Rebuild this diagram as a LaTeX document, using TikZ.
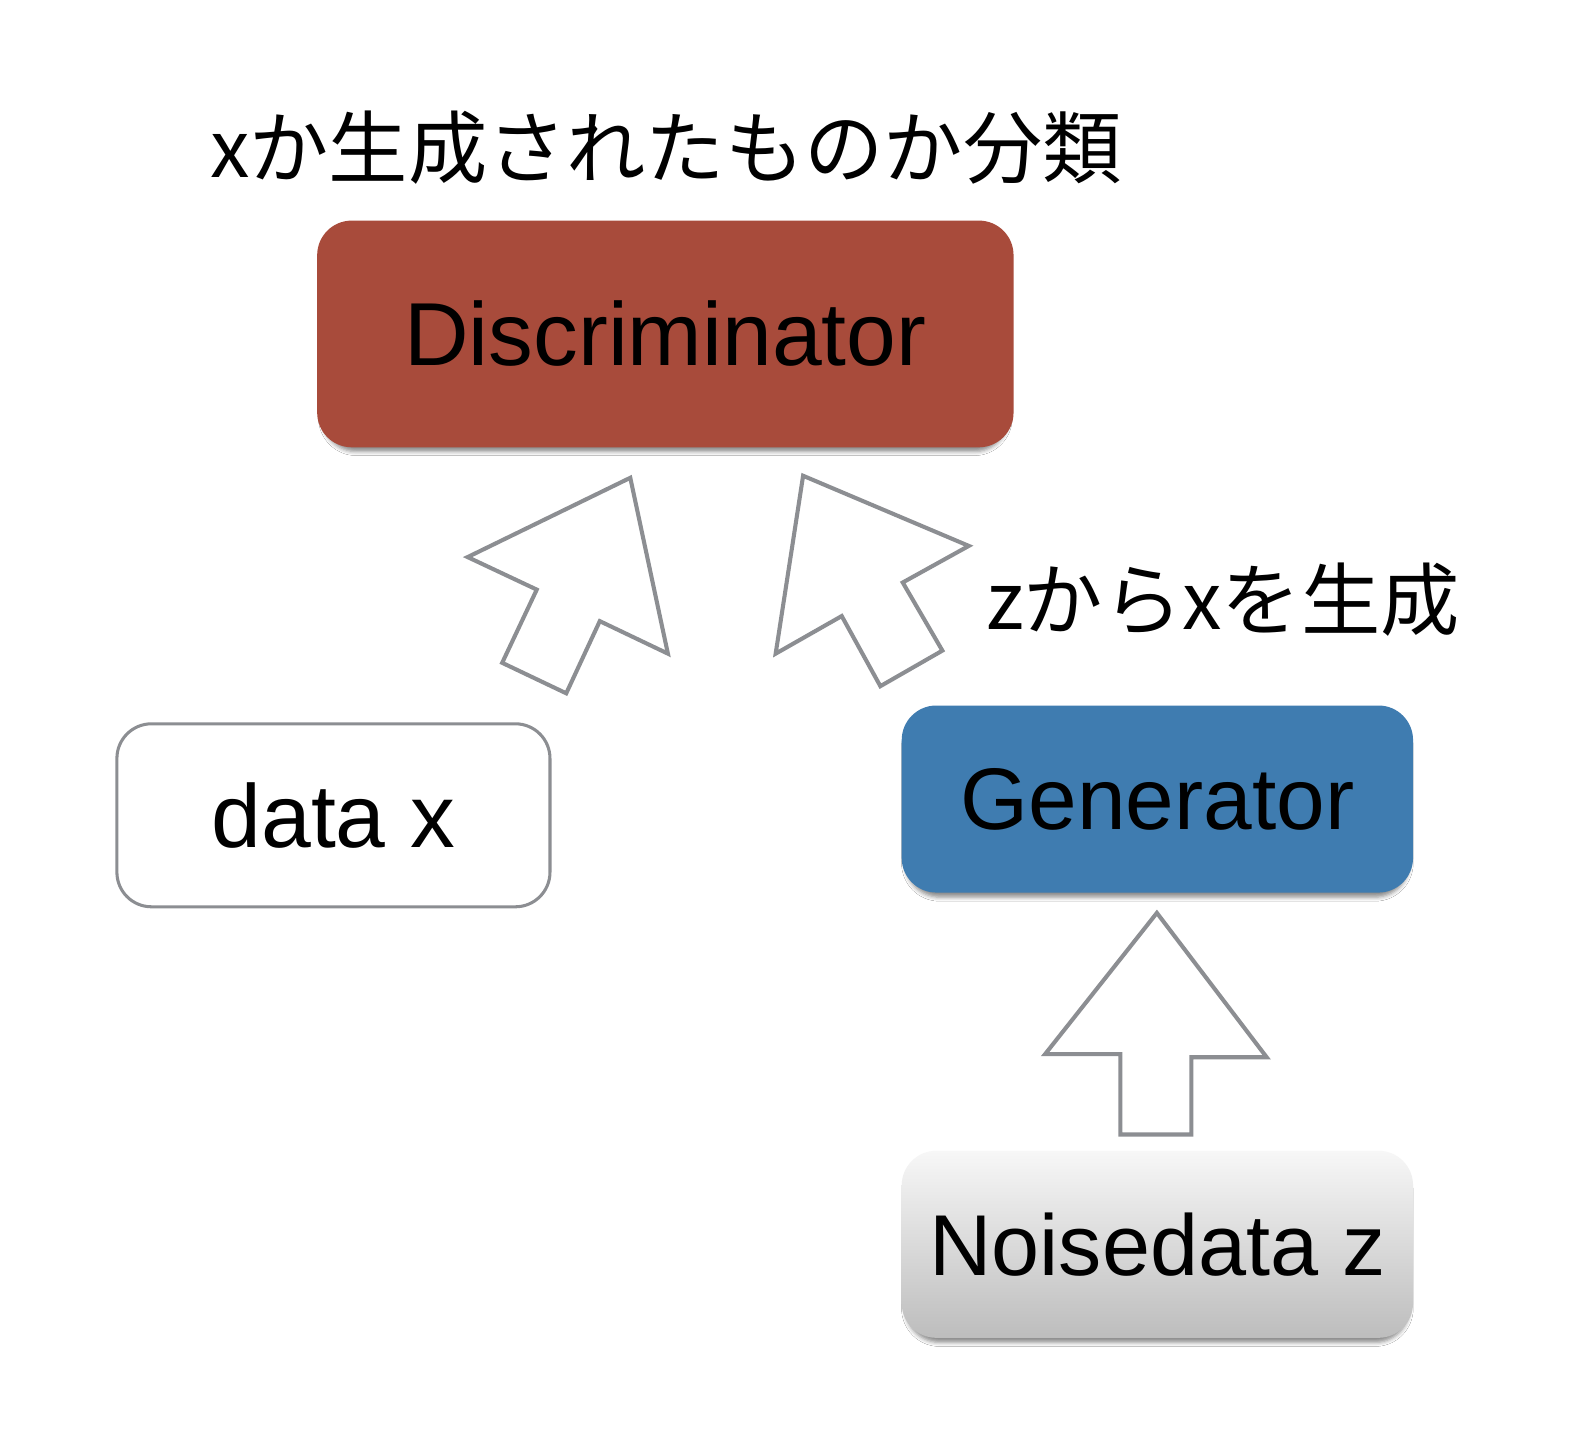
\documentclass[tikz,border=0pt]{standalone}
\usepackage{fontspec}
\setmainfont{Liberation Sans}
\newfontfamily\jpfont{Noto Sans CJK JP}
\usetikzlibrary{shadows,shadows.blur}
\definecolor{discred}{HTML}{A84B3B}
\definecolor{genblue}{HTML}{3F7CB0}
\definecolor{arrowgray}{HTML}{8C8E92}
\definecolor{noisetop}{HTML}{F7F7F7}
\definecolor{noisebot}{HTML}{BDBDBD}
\begin{document}
\begin{tikzpicture}[x=0.5pt,y=-0.5pt,
  box/.style={rectangle, rounded corners=17pt, inner sep=0pt, font=\fontsize{44}{50}\selectfont},
  boxshadow/.style={blur shadow={shadow xshift=0pt, shadow yshift=-3pt, shadow blur radius=2pt, shadow scale=0.985, shadow opacity=45}},
  blockarrow/.style={draw=arrowgray, line width=2pt, fill=white, line join=miter},
  jp/.style={font=\jpfont\fontsize{39}{44}\selectfont, inner sep=0pt}]
\useasboundingbox[fill=white] (0,0) rectangle (1568,1411);

% texts
\node[jp] (title) at (655,145) {xか生成されたものか分類};
\node[jp] (zlabel) at (1203,590) {zからxを生成};

% boxes
\node[box, boxshadow, fill=discred, minimum width=342.5pt, minimum height=111.5pt] (disc) at (654.5,328.5) {Discriminator};
\node[box, fill=white, draw=arrowgray, line width=1.5pt, minimum width=213pt, minimum height=90pt] (data) at (328,802) {data x};
\node[box, boxshadow, fill=genblue, minimum width=251.5pt, minimum height=92pt, font=\fontsize{43}{50}\selectfont] (gen) at (1138.5,786) {Generator};
\node[box, boxshadow, top color=noisetop, bottom color=noisebot, minimum width=251.5pt, minimum height=92pt, font=\fontsize{42.5}{50}\selectfont] (noise) at (1138.5,1224) {Noisedata z};

% block arrows
\draw[blockarrow] (460,548) -- (620,470) -- (657,643) -- (590,611) -- (557,682) -- (494,652) -- (528,580) -- cycle;
\draw[blockarrow] (790,468) -- (953,537) -- (888,573) -- (927,640) -- (866,675) -- (828,606) -- (763,643) -- cycle;
\draw[blockarrow] (1138,898) -- (1246,1040) -- (1172,1040) -- (1172,1116) -- (1102,1116) -- (1102,1037) -- (1028,1037) -- cycle;
\end{tikzpicture}
\end{document}
